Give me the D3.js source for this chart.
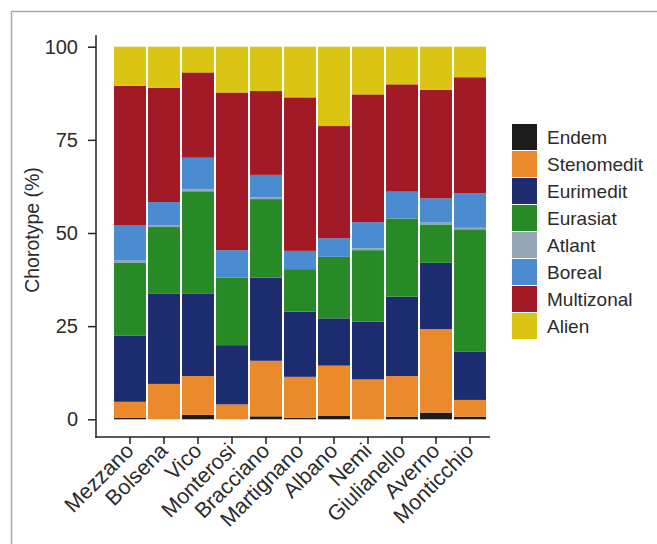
<!DOCTYPE html>
<html><head><meta charset="utf-8">
<script src="https://cdn.jsdelivr.net/npm/d3@7"></script>
<style>
html,body{margin:0;padding:0;background:#fff;}
svg{display:block;font-family:"Liberation Sans",Arial,Helvetica,sans-serif;}
</style></head>
<body>
<svg id="chart" width="657" height="544"></svg>
<script>
const sites = ["Mezzano","Bolsena","Vico","Monterosi","Bracciano","Martignano","Albano","Nemi","Giulianello","Averno","Monticchio"];
const chorotypes = ["Endem","Stenomedit","Eurimedit","Eurasiat","Atlant","Boreal","Multizonal","Alien"];
const colors = ["#1c1c1c","#eb8a2d","#1c2c6e","#288a26","#95a5b5","#4b8bd0","#a11a26","#dbc514"];
const Endem      = [0.4, 0.0, 1.2, 0.0, 0.8, 0.4, 1.0, 0.0, 0.7, 1.8, 0.7];
const Stenomedit = [4.3, 9.5, 10.4, 4.0, 14.9, 11.0, 13.4, 10.7, 10.9, 22.4, 4.5];
const Eurimedit  = [17.7, 24.3, 22.2, 15.9, 22.3, 17.5, 12.7, 15.5, 21.3, 17.8, 12.9];
const Eurasiat   = [19.7, 17.8, 27.4, 18.1, 21.1, 11.4, 16.5, 19.2, 21.0, 10.3, 32.9];
const Atlant     = [0.5, 0.5, 0.5, 0.0, 0.5, 0.0, 0.0, 0.5, 0.0, 0.5, 0.4];
const Boreal     = [9.4, 6.2, 8.5, 7.4, 6.0, 4.9, 5.0, 7.0, 7.2, 6.5, 9.3];
const Multizonal = [37.5, 30.7, 22.9, 42.3, 22.5, 41.2, 30.1, 34.3, 28.8, 29.1, 31.1];
const Alien      = [10.5, 11.0, 6.9, 12.3, 11.9, 13.6, 21.3, 12.8, 10.1, 11.6, 8.2];
const yTicks = [0, 25, 50, 75, 100];
const yTitle = "Chorotype (%)";

const seriesArrays = [Endem, Stenomedit, Eurimedit, Eurasiat, Atlant, Boreal, Multizonal, Alien];
const rows = sites.map((s, i) => {
  const r = {site: s};
  chorotypes.forEach((c, j) => r[c] = seriesArrays[j][i]);
  return r;
});

const svg = d3.select("#chart");
const FS = 19;
const textCol = "#2b2b2b";

// outer frame
svg.append("line").attr("x1",11).attr("x2",657).attr("y1",11.5).attr("y2",11.5).attr("stroke","#a8a8a8").attr("stroke-width",1.5);
svg.append("line").attr("x1",11.5).attr("x2",11.5).attr("y1",11).attr("y2",544).attr("stroke","#a8a8a8").attr("stroke-width",1.5);

const x = d3.scaleBand().domain(sites).range([113, 487]).paddingInner(0.06).paddingOuter(0.03);
const y = d3.scaleLinear().domain([0, 100]).range([419.3, 46.7]);

const stack = d3.stack().keys(chorotypes)(rows);
const color = d3.scaleOrdinal().domain(chorotypes).range(colors);

svg.append("g").selectAll("g").data(stack).join("g")
  .attr("fill", d => color(d.key))
  .selectAll("rect").data(d => d).join("rect")
  .attr("x", d => x(d.data.site))
  .attr("width", x.bandwidth())
  .attr("y", d => y(d[1]))
  .attr("height", d => Math.max(0, y(d[0]) - y(d[1])));

// axes
const axisX0 = 96, axisY0 = 437;
svg.append("line").attr("x1",axisX0).attr("x2",axisX0).attr("y1",35).attr("y2",axisY0+0.75)
  .attr("stroke","#222").attr("stroke-width",1.5);
svg.append("line").attr("x1",axisX0-0.75).attr("x2",490).attr("y1",axisY0).attr("y2",axisY0)
  .attr("stroke","#222").attr("stroke-width",1.5);

const gy = svg.append("g").attr("transform",`translate(${axisX0},0)`)
  .call(d3.axisLeft(y).tickValues(yTicks).tickSize(8).tickPadding(10));
gy.select(".domain").remove();
gy.selectAll(".tick line").attr("stroke","#222").attr("stroke-width",1.5);
gy.selectAll(".tick text").attr("font-size",20).attr("fill",textCol).attr("font-family",null);

const gx = svg.append("g").attr("transform",`translate(0,${axisY0})`)
  .call(d3.axisBottom(x).tickSize(7).tickSizeOuter(0));
gx.select(".domain").remove();
gx.selectAll(".tick line").attr("stroke","#222").attr("stroke-width",1.5);
gx.selectAll(".tick text")
  .attr("font-size",21.5).attr("fill",textCol).attr("font-family",null)
  .attr("text-anchor","end")
  .attr("dy",null).attr("y",0)
  .attr("transform","translate(5,15) rotate(-45)");

// y title
svg.append("text").attr("transform","translate(39,230) rotate(-90)")
  .attr("text-anchor","middle").attr("font-size",19.5).attr("fill",textCol).text(yTitle);

// legend
const lg = svg.append("g").attr("transform","translate(512,124)");
chorotypes.forEach((c, i) => {
  const g = lg.append("g").attr("transform",`translate(0,${i*27})`);
  g.append("rect").attr("width",25).attr("height",26).attr("fill",color(c));
  g.append("text").attr("x",35).attr("y",13).attr("dy","0.35em")
    .attr("font-size",FS).attr("fill",textCol).text(c);
});
</script>
</body></html>
